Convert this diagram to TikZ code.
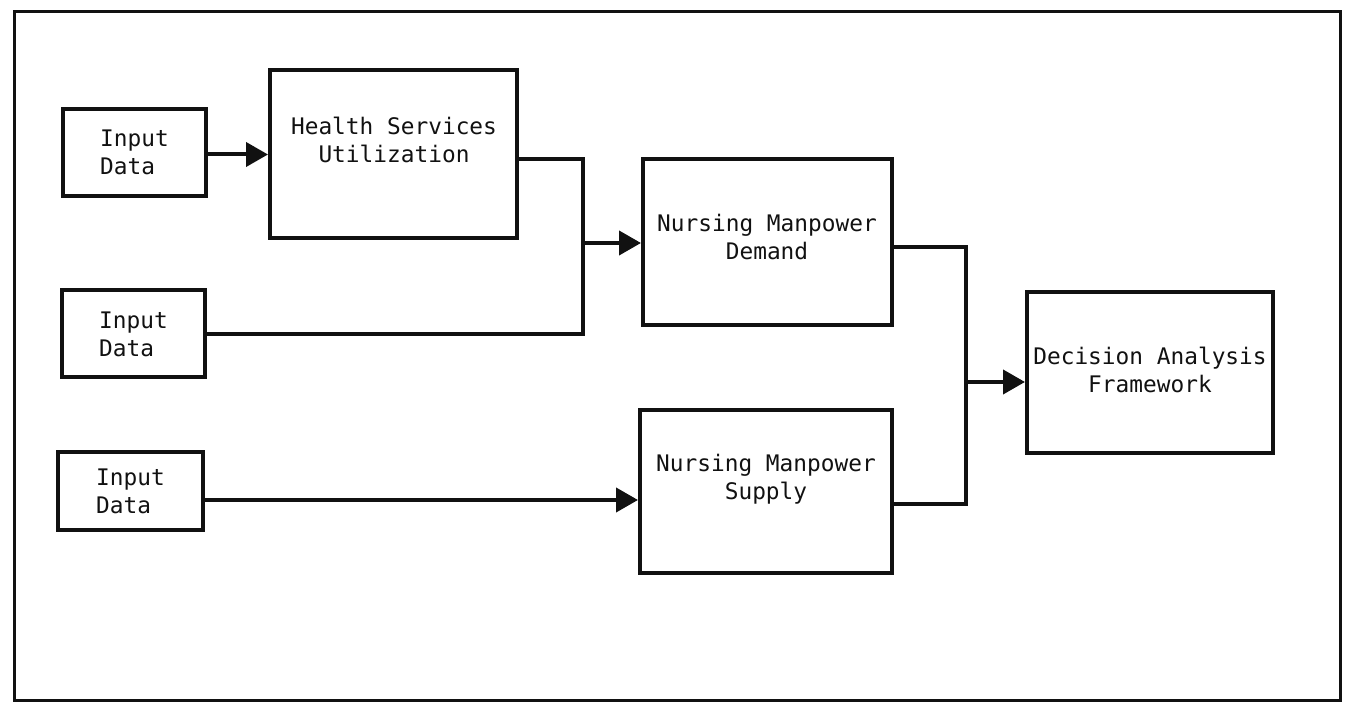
\documentclass[tikz,border=0pt]{standalone}
\usepackage{fontspec}
\usepackage{tikz}
\usetikzlibrary{arrows.meta,positioning}
\newfontfamily\machine{DejaVu Sans Mono}
\definecolor{encre}{HTML}{111111}
\tikzset{
  module/.style={draw=encre,line width=2pt,inner sep=0pt},
  libelle/.style={font=\machine\fontsize{11.4}{14}\selectfont,align=center,text=encre},
  trait/.style={line width=2pt,color=encre},
  pointe/.style={trait,-{Triangle[length=11pt,width=12pt]}},
}

\begin{document}
\begin{tikzpicture}[x=0.5pt,y=-0.5pt,
  entree/.style={module,libelle,align=left,minimum width=71.5pt,minimum height=43.5pt}]
  \useasboundingbox (0,0) rectangle (1346,704);
  \draw[encre,line width=1.5pt] (14,12) rectangle (1340,701);
  % donnees d'entree
  \node[entree] (e1) at (134.5,152.5) {Input\\Data};
  \node[entree] (e2) at (133.5,334) {Input\\Data};
  \node[entree,minimum width=72.5pt,minimum height=39pt] (e3) at (130.5,491) {Input\\Data};
  % modules
  \node[module,minimum width=123.5pt,minimum height=84pt] (hsu) at (393.5,154) {};
  \node[module,minimum width=124.5pt,minimum height=83pt] (dem) at (767.5,242) {};
  \node[module,minimum width=126pt,minimum height=81.5pt] (sup) at (766,491.5) {};
  \node[module,minimum width=123pt,minimum height=80.5pt] (dec) at (1150,372.5) {};
  \node[libelle] (hsu-l) at (394,140) {Health Services\\Utilization};
  \node[libelle] (dem-l) at (767,237) {Nursing Manpower\\Demand};
  \node[libelle] (sup-l) at (766,479) {Nursing Manpower\\Supply};
  \node[libelle] (dec-l) at (1150,370) {Decision Analysis\\Framework};
  % liaisons
  \coordinate (j1) at (583,243);
  \coordinate (j2) at (966,382);
  \draw[pointe] ([yshift=-1pt]e1.east) -- ([yshift=-1pt]e1.east -| hsu.west);
  \draw[trait] ([yshift=-2.5pt]hsu.east) -| (j1);
  \draw[trait] (e2.east) -| (j1);
  \draw[pointe] (j1) -- (j1 -| dem.west);
  \draw[pointe] ([yshift=-4.5pt]e3.east) -- ([yshift=-4.5pt]e3.east -| sup.west);
  \draw[trait] ([yshift=-2.5pt]dem.east) -| (j2);
  \draw[trait] ([yshift=-6.5pt]sup.east) -| (j2);
  \draw[pointe] (j2) -- (j2 -| dec.west);
\end{tikzpicture}
\end{document}
